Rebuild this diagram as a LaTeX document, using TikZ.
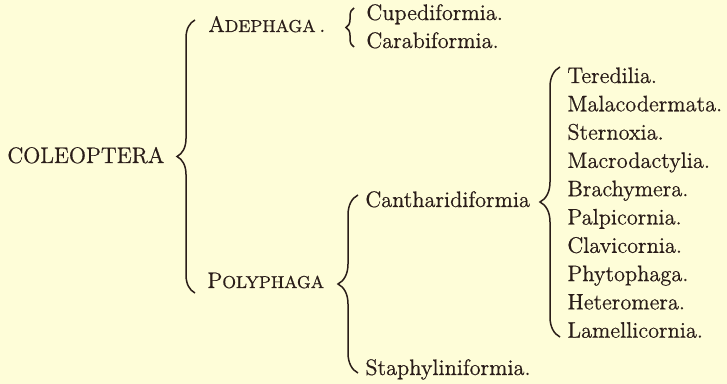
\documentclass[tikz,border=0pt]{standalone}
\usepackage{fontspec}
\setmainfont{Latin Modern Roman}[FakeBold=0.6]
\usepackage{tikz}
\usetikzlibrary{positioning, decorations.pathreplacing}
\definecolor{paper}{HTML}{FEFDD8}
\definecolor{ink}{HTML}{2A1D19}
\newcommand{\fakesc}[2]{#1{\fontsize{8.6}{10}\selectfont #2}}

\begin{document}
\begin{tikzpicture}[
  x=0.5pt, y=-0.5pt,
  every node/.style={font=\fontsize{11.2}{13}\selectfont, text=ink, inner sep=0pt},
  taxon/.style={anchor=base west},
  bracket/.style={
    draw=ink,
    line width=0.75pt,
    decorate,
    decoration={brace, amplitude=#1, aspect=0.5},
  },
  bracket/.default=9pt,
]
  \useasboundingbox[fill=paper] (0,0) rectangle (727,384);

  % order and suborders
  \node[taxon] (coleoptera) at (7,163) {COLEOPTERA};
  \node[taxon] (adephaga) at (208,32) {\fakesc{A}{DEPHAGA}\,.};
  \node[taxon] (polyphaga) at (207,288) {\fakesc{P}{OLYPHAGA}};

  % adephagous groups
  \node[taxon] (cupedi) at (366,20) {Cupediformia.};
  \node[taxon] (carabi) at (366,48) {Carabiformia.};

  % polyphagous groups
  \node[taxon] (canthari) at (365,207) {Cantharidiformia};
  \node[taxon] (staphy) at (365,375) {Staphyliniformia.};

  % families
  \foreach \name [count=\i from 0] in {Teredilia., Malacodermata., Sternoxia.,
      Macrodactylia., Brachymera., Palpicornia., Clavicornia., Phytophaga.,
      Heteromera., Lamellicornia.}
    \node[taxon] (fam\i) at (567,{83+28.3*\i}) {\name};

  % brace ends
  \coordinate (coltop) at (195,20);
  \coordinate (colbot) at (195,293);
  \coordinate (adetop) at (354,8);
  \coordinate (adebot) at (354,47);
  \coordinate (polytop) at (358,195);
  \coordinate (polybot) at (358,373);
  \coordinate (canttop) at (560,67);
  \coordinate (cantbot) at (560,337);

  \draw[bracket] (colbot) -- (coltop);
  \draw[bracket=4pt] (adebot) -- (adetop);
  \draw[bracket=10pt] (polybot) -- (polytop);
  \draw[bracket=10pt] (cantbot) -- (canttop);
\end{tikzpicture}
\end{document}
